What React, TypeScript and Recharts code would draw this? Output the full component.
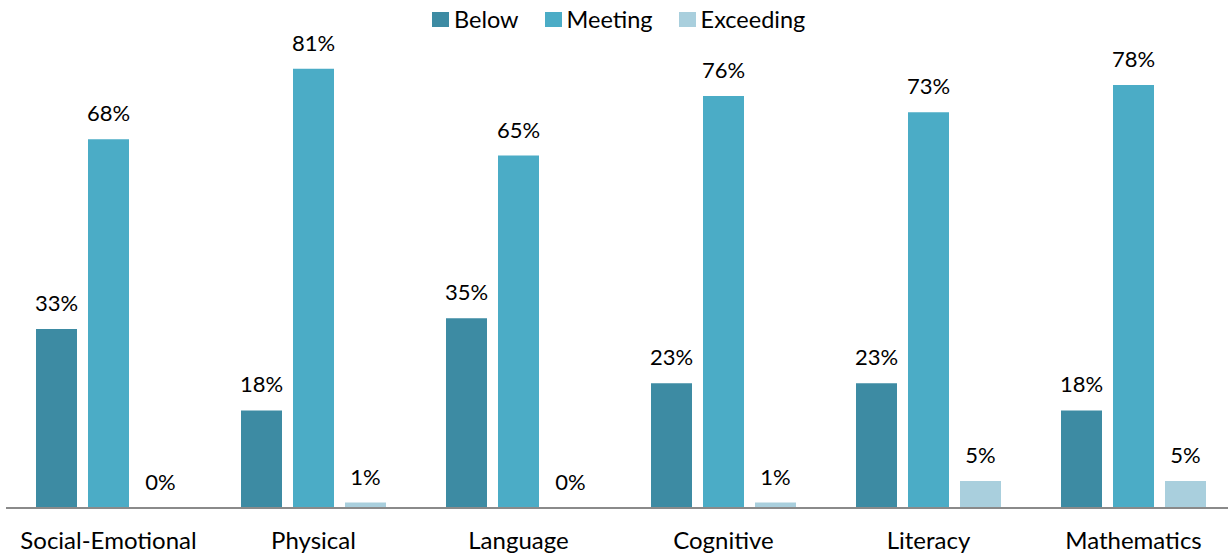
import React from "react";
import { BarChart, Bar, XAxis, YAxis, Legend, LabelList } from "recharts";

const categories = ["Social-Emotional", "Physical", "Language", "Cognitive", "Literacy", "Mathematics"];
const below = [33, 18, 35, 23, 23, 18];
const meeting = [68, 81, 65, 76, 73, 78];
const exceeding = [0, 1, 0, 1, 5, 5];

const seriesNames = ["Below", "Meeting", "Exceeding"];
const seriesColors = ["#3d8ba3", "#4bacc6", "#a9cfdd"];

const data = categories.map((c, i) => ({
  name: c,
  Below: below[i],
  Meeting: meeting[i],
  Exceeding: exceeding[i],
}));

const FONT = "Lato, 'Open Sans', sans-serif";

const renderLabel = (props: any) => {
  const { x, y, width, value } = props;
  return (
    <text
      x={Number(x) + Number(width) / 2}
      y={Number(y) - 18}
      textAnchor="middle"
      fontFamily={FONT}
      fontSize={22}
      fill="#000"
    >
      {Math.round(Number(value))}%
    </text>
  );
};

const renderTick = (props: any) => {
  const { x, y, payload } = props;
  return (
    <text x={x} y={Number(y) + 33} textAnchor="middle" fontFamily={FONT} fontSize={24} fill="#000">
      {payload.value}
    </text>
  );
};

const renderLegend = () => (
  <div style={{ display: "flex", justifyContent: "flex-start", paddingLeft: 432, fontFamily: FONT, fontSize: 23.5, color: "#000", lineHeight: "28px" }}>
    {seriesNames.map((n, i) => (
      <div key={n} style={{ display: "flex", alignItems: "center", marginRight: 26 }}>
        <div style={{ width: 17, height: 15, background: seriesColors[i], marginRight: 5 }} />
        <span>{n}</span>
      </div>
    ))}
  </div>
);

export default function App() {
  return (
    <div style={{ position: "absolute", left: 0, top: 0, width: 1228, height: 559, overflow: "hidden", background: "#fff" }}>
      <BarChart
        width={1240}
        height={559}
        data={data}
        margin={{ top: 20, right: 4, bottom: 0, left: 6 }}
        barSize={41}
        barGap={11}
      >
        <XAxis
          dataKey="name"
          height={51}
          axisLine={{ stroke: "#8a8a8a", strokeWidth: 2 }}
          tickLine={false}
          tick={renderTick}
          interval={0}
        />
        <YAxis hide domain={[0, 90]} />
        <Legend
          verticalAlign="middle"
          align="center"
          layout="horizontal"
          content={renderLegend}
          wrapperStyle={{ position: "absolute", top: 5, left: 0, width: 1228 }}
        />
        {seriesNames.map((n, i) => (
          <Bar key={n} dataKey={n} fill={seriesColors[i]} minPointSize={0.01} isAnimationActive={false}>
            <LabelList dataKey={n} content={renderLabel} />
          </Bar>
        ))}
      </BarChart>
    </div>
  );
}
